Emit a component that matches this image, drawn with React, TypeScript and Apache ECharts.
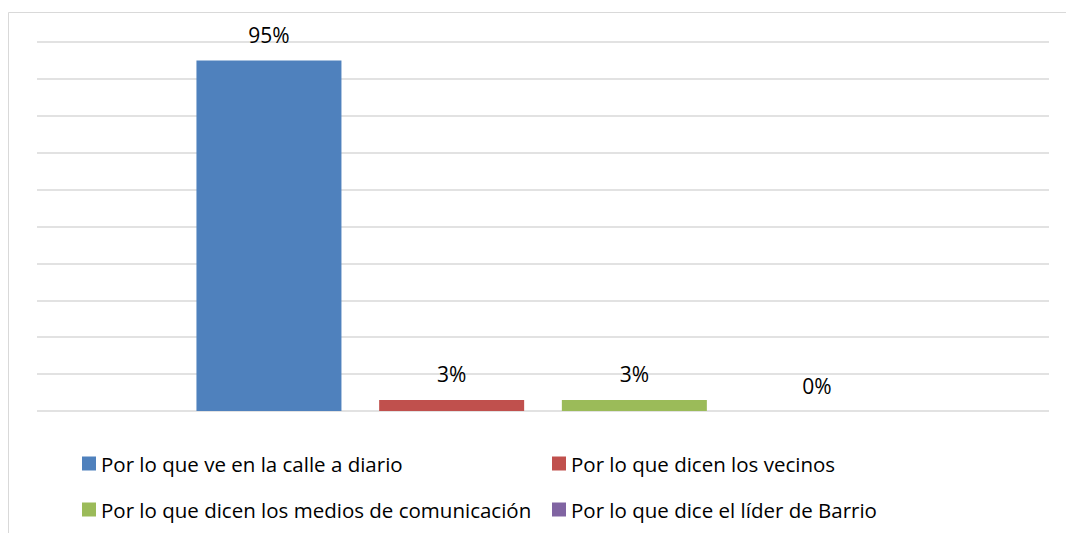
import React, { useEffect, useRef } from "react";
import * as echarts from "echarts";

const categories = [""];
const seriesNames = [
  "Por lo que ve en la calle a diario",
  "Por lo que dicen los vecinos",
  "Por lo que dicen los medios de comunicación",
  "Por lo que dice el líder de Barrio",
];
const seriesValues = [95, 3, 3, 0];
const seriesColors = ["#4F81BD", "#C0504D", "#9BBB59", "#8064A2"];
const FONT = "'Open Sans', sans-serif";

export default function App() {
  const ref = useRef<HTMLDivElement>(null);
  useEffect(() => {
    document.body.style.margin = "0";
    const chart = echarts.init(ref.current!, null, { renderer: "svg" });
    const legendPos = [
      { left: 82, top: 453 },
      { left: 552, top: 453 },
      { left: 82, top: 499 },
      { left: 552, top: 499 },
    ];
    chart.setOption({
      animation: false,
      backgroundColor: "#ffffff",
      textStyle: { fontFamily: FONT },
      graphic: [
        {
          type: "rect",
          shape: { x: 8.5, y: 12.5, width: 1200, height: 700 },
          style: { fill: "none", stroke: "#D9D9D9", lineWidth: 1 },
          silent: true,
        },
      ],
      grid: { left: 37, right: 17, top: 42, bottom: 122, containLabel: false },
      xAxis: {
        type: "category",
        data: categories,
        axisLine: { show: false },
        axisTick: { show: false },
        axisLabel: { show: false },
      },
      yAxis: {
        type: "value",
        min: 0,
        max: 100,
        interval: 10,
        axisLine: { show: false },
        axisTick: { show: false },
        axisLabel: { show: false },
        splitLine: { lineStyle: { color: "#D9D9D9", width: 1.5 } },
      },
      legend: seriesNames.map((name, i) => ({
        data: [name],
        left: legendPos[i].left,
        top: legendPos[i].top,
        padding: 0,
        itemWidth: 14,
        itemHeight: 14,
        itemGap: 5,
        icon: "rect",
        selectedMode: false,
        textStyle: { fontSize: 20.5, lineHeight: 20, color: "#000000", fontFamily: FONT, padding: [0, 0, 0, 0] },
      })),
      series: seriesNames.map((name, i) => ({
        name,
        type: "bar",
        data: [seriesValues[i]],
        barWidth: 145,
        barGap: "26%",
        itemStyle: { color: seriesColors[i] },
        label: {
          show: true,
          position: "top",
          distance: 15,
          formatter: "{c}%",
          fontSize: 21,
          lineHeight: 21,
          color: "#000000",
          fontFamily: FONT,
        },
      })),
    });
    return () => chart.dispose();
  }, []);
  return <div ref={ref} style={{ width: 1066, height: 533 }} />;
}
